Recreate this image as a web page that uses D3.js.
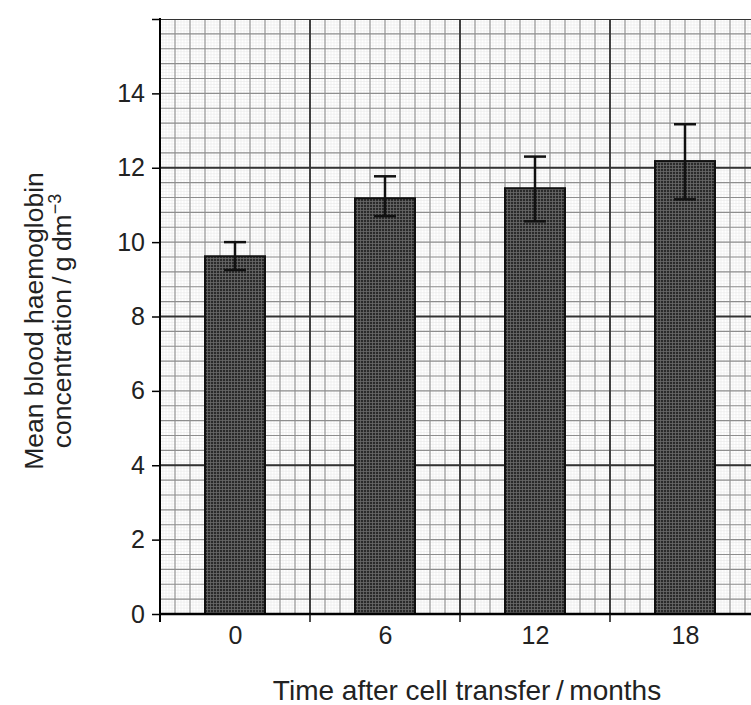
<!DOCTYPE html>
<html>
<head>
<meta charset="utf-8">
<script src="https://cdn.jsdelivr.net/npm/d3@7"></script>
<style>
  body { margin: 0; background: #fff; }
  svg { display: block; font-family: "Liberation Sans", Arial, sans-serif; }
</style>
</head>
<body>
<svg id="chart" width="751" height="705"></svg>
<script>
// data
var months = [0, 6, 12, 18];
var meanHb = [9.62, 11.18, 11.45, 12.18];
var errTop = [10.0, 11.77, 12.3, 13.17];
var errBottom = [9.25, 10.7, 10.56, 11.15];
var yTicks = [0, 2, 4, 6, 8, 10, 12, 14, 16];
var yTickLabels = ["0", "2", "4", "6", "8", "10", "12", "14", ""];

var svg = d3.select("#chart");
var plotLeft = 160, plotRight = 760, plotTop = 19, plotBottom = 614;

var x = d3.scaleLinear().domain([-3, 21]).range([plotLeft, plotRight]);
var y = d3.scaleLinear().domain([0, 16]).range([plotBottom, plotTop]);

// bar hatch texture
var defs = svg.append("defs");
var pat = defs.append("pattern").attr("id", "hatch")
  .attr("patternUnits", "userSpaceOnUse").attr("width", 3).attr("height", 3);
pat.append("rect").attr("width", 3).attr("height", 3).attr("fill", "#2a2a2a");
pat.append("path").attr("d", "M0,0.5H3M0.5,0V3").attr("stroke", "#6a6a6a").attr("stroke-width", 0.8);

defs.append("clipPath").attr("id", "plotClip").append("rect")
  .attr("x", plotLeft).attr("y", plotTop).attr("width", plotRight - plotLeft).attr("height", plotBottom - plotTop);

var grid = svg.append("g").attr("clip-path", "url(#plotClip)");

// graph paper: minor, medium, major lines
function paper(stepX, stepY, color, width) {
  d3.range(-3, 21.0001, stepX).forEach(function(v) {
    grid.append("line").attr("x1", x(v)).attr("x2", x(v)).attr("y1", plotTop).attr("y2", plotBottom)
      .attr("stroke", color).attr("stroke-width", width);
  });
  d3.range(0, 16.0001, stepY).forEach(function(v) {
    grid.append("line").attr("x1", plotLeft).attr("x2", plotRight).attr("y1", y(v)).attr("y2", y(v))
      .attr("stroke", color).attr("stroke-width", width);
  });
}
paper(0.12, 0.08, "#e8e8e8", 0.6);
paper(0.6, 0.4, "#8e8e8e", 1.1);
paper(6, 4, "#333", 1.8);

// bars
svg.selectAll("rect.bar").data(months).enter().append("rect")
  .attr("class", "bar")
  .attr("x", function(d) { return x(d - 1.2); })
  .attr("width", x(1.2) - x(-1.2))
  .attr("y", function(d, i) { return y(meanHb[i]); })
  .attr("height", function(d, i) { return plotBottom - y(meanHb[i]); })
  .attr("fill", "url(#hatch)")
  .attr("stroke", "#111").attr("stroke-width", 2);

// error bars
var eb = svg.append("g").attr("stroke", "#111").attr("stroke-width", 2.5);
months.forEach(function(m, i) {
  eb.append("line").attr("x1", x(m)).attr("x2", x(m)).attr("y1", y(errTop[i])).attr("y2", y(errBottom[i]));
  eb.append("line").attr("x1", x(m) - 11).attr("x2", x(m) + 11).attr("y1", y(errTop[i])).attr("y2", y(errTop[i]));
  eb.append("line").attr("x1", x(m) - 11).attr("x2", x(m) + 11).attr("y1", y(errBottom[i])).attr("y2", y(errBottom[i]));
});

// y axis
var yAxis = svg.append("g").attr("transform", "translate(" + plotLeft + ",0)")
  .call(d3.axisLeft(y).tickValues(yTicks).tickSize(8).tickPadding(7)
    .tickFormat(function(d, i) { return yTickLabels[i]; }));
yAxis.select(".domain").attr("d", "M0," + (plotTop - 1) + "V" + (plotBottom + 8)).attr("stroke-width", 2);
yAxis.selectAll(".tick line").attr("stroke-width", 1.5);
yAxis.selectAll("text").attr("font-size", 25).attr("fill", "#222");

// x axis
var xAxis = svg.append("g").attr("transform", "translate(0," + plotBottom + ")")
  .call(d3.axisBottom(x).tickValues(months).tickSize(0).tickPadding(12));
xAxis.select(".domain").attr("d", "M" + plotLeft + ",0H" + plotRight).attr("stroke-width", 2.5);
xAxis.selectAll("text").attr("font-size", 25).attr("fill", "#222");
svg.append("g").selectAll("line").data([3, 9, 15]).enter().append("line")
  .attr("x1", function(d) { return x(d); }).attr("x2", function(d) { return x(d); })
  .attr("y1", plotBottom).attr("y2", plotBottom + 8)
  .attr("stroke", "#111").attr("stroke-width", 1.5);

// titles
svg.append("text").attr("x", 467).attr("y", 700).attr("text-anchor", "middle")
  .attr("font-size", 28).attr("fill", "#222").text("Time after cell transfer\u2009/\u2009months");

var yt = svg.append("text").attr("transform", "translate(43,321) rotate(-90)")
  .attr("text-anchor", "middle").attr("font-size", 26.5).attr("fill", "#222");
yt.append("tspan").attr("x", 0).attr("dy", 0).text("Mean blood haemoglobin");
var l2 = yt.append("tspan").attr("x", 0).attr("dy", 28);
l2.text("concentration\u2009/\u2009g\u2009dm");
yt.append("tspan").attr("dy", -10).attr("font-size", 18).text("\u22123");
</script>
</body>
</html>
